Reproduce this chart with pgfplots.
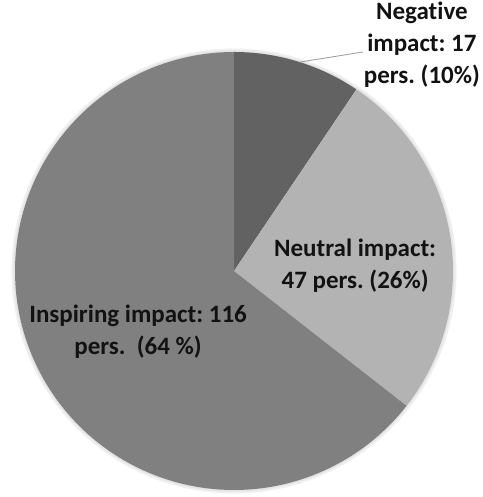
\documentclass[border=0pt]{standalone}
\usepackage{pgfplots}
\pgfplotsset{compat=1.18}
\usepackage{fontspec}
\setmainfont{Carlito}[Ligatures={NoCommon}]
\frenchspacing
\definecolor{negc}{HTML}{626262}
\definecolor{neuc}{HTML}{B3B3B3}
\definecolor{insc}{HTML}{808080}
\definecolor{txtc}{HTML}{121212}
% values (persons)
\def\vNeg{17}
\def\vNeu{47}
\def\vIns{116}
\tikzset{lbl/.style={font=\bfseries\fontsize{25}{32}\selectfont, text=txtc, align=center}}
\begin{document}
\begin{tikzpicture}
\pgfmathsetmacro\tot{\vNeg+\vNeu+\vIns}
\pgfmathsetmacro\aA{90}
\pgfmathsetmacro\aB{\aA-\vNeg/\tot*360}
\pgfmathsetmacro\aC{\aB-\vNeu/\tot*360}
\pgfmathsetmacro\aD{\aC-\vIns/\tot*360}
\begin{axis}[
  at={(0,0)}, anchor=south west,
  scale only axis, width=482pt, height=497pt,
  xmin=-1.0685, xmax=1.1324, ymin=-1.032, ymax=1.2374,
  hide axis, clip=false,
]
% soft shadow
\addplot[draw=black, opacity=0.06, line width=5pt, domain=0:360, samples=120] ({1.005*cos(x)},{1.005*sin(x)});
\addplot[draw=black, opacity=0.05, line width=2pt, domain=0:360, samples=120] ({1.003*cos(x)},{1.003*sin(x)});
% slices
\addplot[fill=negc, draw=none, domain=\aB:\aA, samples=40] ({cos(x)},{sin(x)}) -- (axis cs:0,0) -- cycle;
\addplot[fill=neuc, draw=none, domain=\aC:\aB, samples=60] ({cos(x)},{sin(x)}) -- (axis cs:0,0) -- cycle;
\addplot[fill=insc, draw=none, domain=\aD:\aC, samples=150] ({cos(x)},{sin(x)}) -- (axis cs:0,0) -- cycle;
% leader line
\addplot[draw=gray!80, line width=0.8pt] coordinates {(0.301,0.954) (0.589,1.0)};
% labels
\node[lbl] at (axis cs:0.858,1.032) {Negative\\impact: 17\\pers. (10\%)};
\node[lbl] at (axis cs:0.553,0.023) {Neutral impact:\\47 pers. (26\%)};
\node[lbl] at (axis cs:-0.438,-0.279) {Inspiring impact: 116\\pers.~~(64~\%)};
\end{axis}
\pgfresetboundingbox
\useasboundingbox (0,0) rectangle (482pt,497pt);
\end{tikzpicture}
\end{document}
